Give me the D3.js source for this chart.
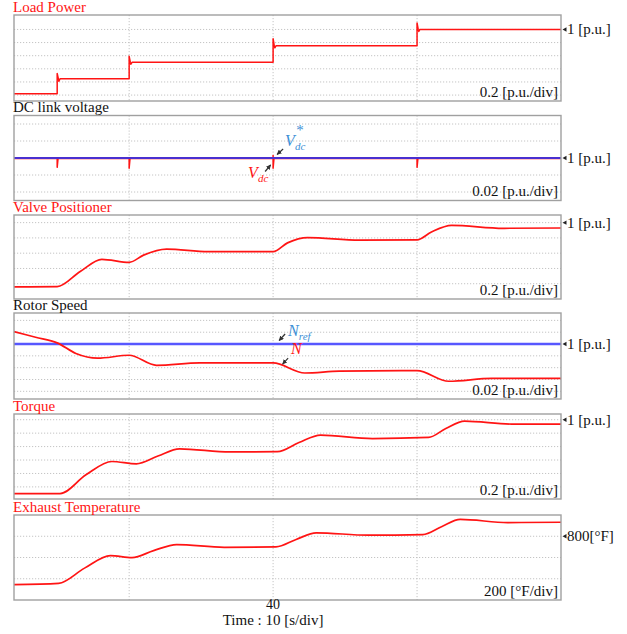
<!DOCTYPE html>
<html><head><meta charset="utf-8">
<script src="https://cdn.jsdelivr.net/npm/d3@7"></script>
<style>
body{margin:0;background:#fff}
svg{display:block}
text{font-family:"Liberation Serif","Times New Roman",serif}
</style>
</head><body>
<svg id="chart" width="627" height="634"></svg>
<script>
// ---------------- DATA ----------------
const timeDomain = [22, 60];
const timeGrid = [30, 40, 50];
const timeTickLabel = [40];
const panelTitles = ["Load Power", "DC link voltage", "Valve Positioner", "Rotor Speed", "Torque", "Exhaust Temperature"];
const scaleLabels = ["0.2 [p.u./div]", "0.02 [p.u./div]", "0.2 [p.u./div]", "0.02 [p.u./div]", "0.2 [p.u./div]", "200 [°F/div]"];
const refLabels = ["1 [p.u.]", "1 [p.u.]", "1 [p.u.]", "1 [p.u.]", "1 [p.u.]", "800[°F]"];
const refValues = [1, 1, 1, 1, 1, 800];

// Load power (step with small spikes)
const loadT = [22, 25, 25, 25.08, 25.12, 25.2, 30, 30, 30.08, 30.12, 30.2, 40, 40, 40.08, 40.12, 40.2, 50, 50, 50.08, 50.12, 50.2, 60];
const loadV = [0.02, 0.02, 0.33, 0.25, 0.21, 0.25, 0.25, 0.59, 0.50, 0.47, 0.50, 0.50, 0.86, 0.75, 0.72, 0.75, 0.75, 1.10, 1.0, 0.97, 1.0, 1.0];

// DC link voltage
const dcT = [22, 25, 25, 25.06, 30, 30, 30.06, 40, 40, 40, 40.06, 50, 50, 50.06, 60];
const dcV = [0.9994, 0.9994, 0.989, 0.9994, 0.9994, 0.988, 0.9994, 0.9994, 1.003, 0.988, 0.9994, 0.9994, 0.989, 0.9994, 0.9994];
const dcRefT = [22, 60];
const dcRefV = [1, 1];

// Valve positioner
const valveT = [22, 25, 26.6, 28.1, 30, 31.0, 32.6, 35.5, 40, 41.0, 42.4, 46, 50, 51.0, 52.4, 56, 60];
const valveV = [0.158, 0.162, 0.36, 0.52, 0.48, 0.575, 0.653, 0.62, 0.62, 0.735, 0.805, 0.77, 0.775, 0.878, 0.965, 0.926, 0.93];

// Rotor speed
const speedT = [22, 23.5, 25, 26.3, 27.8, 30, 31.9, 34.9, 40, 42.2, 44.6, 50, 52.2, 55.2, 60];
const speedV = [1.021, 1.0115, 1.002, 0.984, 0.976, 0.981, 0.964, 0.968, 0.968, 0.951, 0.954, 0.955, 0.937, 0.942, 0.942];
const speedRefT = [22, 60];
const speedRefV = [1, 1];

// Torque
const torqueT = [22, 25.2, 27.0, 28.8, 30.5, 32.0, 33.5, 37.0, 40.3, 41.8, 43.3, 46.9, 50.8, 52.0, 53.3, 56.6, 60];
const torqueV = [-0.1, -0.1, 0.18, 0.378, 0.343, 0.46, 0.567, 0.52, 0.525, 0.66, 0.77, 0.72, 0.736, 0.87, 0.98, 0.935, 0.935];

// Exhaust temperature (°F)
const tempT = [22, 25.1, 26.9, 28.7, 30.2, 31.7, 33.3, 36.6, 40.2, 41.6, 43.0, 46.6, 50.4, 51.7, 53.0, 56.3, 60];
const tempV = [344, 357, 500, 618, 599, 665, 722, 696, 700, 770, 832, 810, 816, 890, 958, 929, 932];

// ---------------- LAYOUT ----------------
const RED = "#ff1414";
const panels = [
  {top: 15,  bottom: 101, domain: [-0.09, 1.22], grid: [0, 0.2, 0.4, 0.6, 0.8, 1.0], titleColor: RED,
   series: [{t: loadT, v: loadV, color: RED, w: 1.5, curve: d3.curveLinear}]},
  {top: 115.5, bottom: 200.5, domain: [0.95, 1.05], grid: [0.96, 0.98, 1.0, 1.02, 1.04], titleColor: "#111",
   series: [{t: dcT, v: dcV, color: RED, w: 1.5, curve: d3.curveLinear},
            {t: dcRefT, v: dcRefV, color: "#4a30d0", w: 2, curve: d3.curveLinear}]},
  {top: 215, bottom: 299, domain: [0, 1.1], grid: [0.2, 0.4, 0.6, 0.8, 1.0], titleColor: RED,
   series: [{t: valveT, v: valveV, color: RED, w: 1.7, curve: d3.curveMonotoneX}]},
  {top: 313, bottom: 399, domain: [0.907, 1.0525], grid: [0.92, 0.94, 0.96, 0.98, 1.0, 1.02, 1.04], titleColor: "#111",
   series: [{t: speedRefT, v: speedRefV, color: "#5757ff", w: 2.5, curve: d3.curveLinear},
            {t: speedT, v: speedV, color: RED, w: 1.7, curve: d3.curveMonotoneX}]},
  {top: 414, bottom: 499, domain: [-0.18, 1.085], grid: [0, 0.2, 0.4, 0.6, 0.8, 1.0], titleColor: RED,
   series: [{t: torqueT, v: torqueV, color: RED, w: 1.7, curve: d3.curveMonotoneX}]},
  {top: 515, bottom: 600, domain: [200, 1000], grid: [400, 600, 800], titleColor: RED,
   series: [{t: tempT, v: tempV, color: RED, w: 1.7, curve: d3.curveMonotoneX}]}
];

const svg = d3.select("#chart");
const defs = svg.append("defs");
defs.append("marker").attr("id", "ah").attr("viewBox", "0 0 10 10")
  .attr("refX", 9).attr("refY", 5).attr("markerWidth", 5).attr("markerHeight", 5)
  .attr("orient", "auto").attr("markerUnits", "userSpaceOnUse")
  .append("path").attr("d", "M0,0 L10,5 L0,10 Z").attr("fill", "#333");

const x = d3.scaleLinear().domain(timeDomain).range([14, 561]);

const scales = [];
panels.forEach((p, i) => {
  const y = d3.scaleLinear().domain(p.domain).range([p.bottom, p.top]);
  scales.push(y);
  const g = svg.append("g");
  g.selectAll("line.hg").data(p.grid).join("line")
    .attr("x1", x.range()[0]).attr("x2", x.range()[1])
    .attr("y1", d => y(d)).attr("y2", d => y(d))
    .attr("stroke", "#c4c4c4").attr("stroke-width", 1).attr("stroke-dasharray", "1.2,1.8");
  g.selectAll("line.vg").data(timeGrid).join("line")
    .attr("x1", d => x(d)).attr("x2", d => x(d))
    .attr("y1", p.top).attr("y2", p.bottom)
    .attr("stroke", "#c4c4c4").attr("stroke-width", 1).attr("stroke-dasharray", "1.2,1.8");
  p.series.forEach(s => {
    const pts = s.t.map((t, k) => [t, s.v[k]]);
    g.append("path").datum(pts)
      .attr("d", d3.line().x(d => x(d[0])).y(d => y(d[1])).curve(s.curve))
      .attr("fill", "none").attr("stroke", s.color).attr("stroke-width", s.w)
      .attr("stroke-linejoin", "round");
  });
  g.append("rect").attr("x", x.range()[0]).attr("y", p.top)
    .attr("width", x.range()[1] - x.range()[0]).attr("height", p.bottom - p.top)
    .attr("fill", "none").attr("stroke", "#a0a0a0").attr("stroke-width", 1.4);
  g.append("text").attr("x", 13).attr("y", p.top - 3.5)
    .attr("font-size", 15).attr("fill", p.titleColor).text(panelTitles[i]);
  g.append("text").attr("x", 558).attr("y", p.bottom - 4.5).attr("text-anchor", "end")
    .attr("font-size", 15).attr("fill", "#111").text(scaleLabels[i]);
  const ry = y(refValues[i]);
  g.append("path").attr("d", `M562.5,${ry} L566.5,${ry - 2.2} L566.5,${ry + 2.2} Z`).attr("fill", "#222");
  g.append("text").attr("x", 567).attr("y", ry + 5)
    .attr("font-size", 15).attr("fill", "#111").text(refLabels[i]);
});

// time axis labels
svg.append("g").selectAll("text").data(timeTickLabel).join("text")
  .attr("x", d => x(d)).attr("y", 608.5).attr("text-anchor", "middle")
  .attr("font-size", 14).attr("fill", "#111").text(d => d);
svg.append("text").attr("x", x(40)).attr("y", 625).attr("text-anchor", "middle")
  .attr("font-size", 15).attr("fill", "#111").text("Time : 10 [s/div]");

// annotations
function arrow(x1, y1, x2, y2) {
  svg.append("line").attr("x1", x1).attr("y1", y1).attr("x2", x2).attr("y2", y2)
    .attr("stroke", "#333").attr("stroke-width", 1.2).attr("marker-end", "url(#ah)");
}
function label(xp, yp, main, sub, sup, color) {
  const t = svg.append("text").attr("x", xp).attr("y", yp).attr("fill", color)
    .attr("font-style", "italic").attr("font-size", 16);
  t.append("tspan").text(main);
  t.append("tspan").attr("font-size", 11).attr("dy", 4).text(sub);
  if (sup) {
    t.append("tspan").attr("font-size", 15).attr("font-style", "normal")
      .attr("dx", -9).attr("dy", -15).text(sup);
  }
}
const BLUE_T = "#3d8fd6";
const yDc = scales[1], ySp = scales[3];
label(x(40) + 12, yDc(1) - 12, "V", "dc", "*", BLUE_T);
arrow(x(40) + 10, yDc(1) - 9, x(40) + 4, yDc(1) - 3.5);
label(x(40) - 25, yDc(1) + 20, "V", "dc", null, RED);
arrow(x(40) - 8, yDc(1) + 13.5, x(40) - 2.5, yDc(1) + 7);
label(x(40) + 15, ySp(1) - 8, "N", "ref", null, BLUE_T);
arrow(x(40) + 12, ySp(1) - 10, x(40) + 6, ySp(1) - 3.5);
label(x(40) + 18, ySp(1) + 10, "N", "", null, RED);
arrow(x(40) + 15, ySp(1) + 14, x(40) + 9.5, ySp(1) + 20);
</script>
</body></html>
